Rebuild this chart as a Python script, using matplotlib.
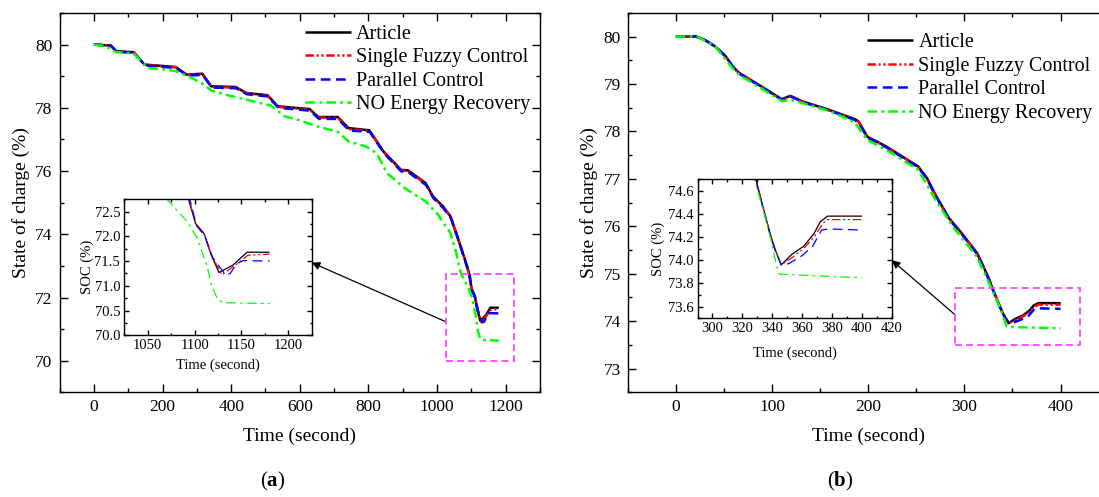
import matplotlib
matplotlib.use("Agg")
import matplotlib.pyplot as plt
from matplotlib.ticker import MultipleLocator, FormatStrFormatter
from matplotlib.patches import Rectangle

plt.rcParams['font.family'] = ['Liberation Serif', 'DejaVu Serif']
plt.rcParams['mathtext.fontset'] = 'custom'
plt.rcParams['mathtext.rm'] = 'Liberation Serif'
plt.rcParams['mathtext.bf'] = 'Liberation Serif:bold'
plt.rcParams['lines.scale_dashes'] = False

# ==========================================
# DATA - panel (a)
# ==========================================
a_article_t = [0, 49, 65, 116, 147, 239, 270, 316, 342, 413, 444, 506, 536, 629, 654, 711, 742, 803,
               844, 895, 916, 967, 988, 1018, 1039, 1059, 1080, 1093, 1101, 1110, 1117, 1126, 1141, 1156, 1180]
a_article_soc = [80.0, 79.97, 79.79, 79.76, 79.37, 79.29, 79.05, 79.08, 78.68, 78.66, 78.47, 78.40, 78.05, 77.96,
                 77.71, 77.71, 77.36, 77.29, 76.62, 76.04, 76.02, 75.62, 75.20, 74.88, 74.57, 73.93, 73.25,
                 72.78, 72.26, 72.06, 71.66, 71.27, 71.42, 71.68, 71.68]

a_fuzzy_t = [0, 49, 66, 116, 148, 239, 271, 316, 343, 413, 445, 506, 537, 629, 655, 711, 743, 803,
             845, 895, 916, 967, 989, 1018, 1040, 1060, 1080, 1094, 1101, 1110, 1118, 1129, 1145, 1157, 1180]
a_fuzzy_soc = [80.0, 79.97, 79.78, 79.75, 79.36, 79.28, 79.04, 79.06, 78.66, 78.64, 78.46, 78.38, 78.03, 77.94,
               77.69, 77.69, 77.33, 77.27, 76.60, 76.02, 76.00, 75.60, 75.18, 74.86, 74.56, 73.92, 73.25,
               72.76, 72.26, 72.05, 71.63, 71.22, 71.44, 71.62, 71.64]

a_parallel_t = [0, 50, 67, 117, 149, 240, 272, 317, 344, 414, 446, 507, 538, 630, 656, 712, 744, 804,
                846, 896, 917, 968, 990, 1019, 1041, 1061, 1081, 1095, 1102, 1111, 1119, 1133, 1138, 1145, 1152, 1180]
a_parallel_soc = [80.0, 79.96, 79.77, 79.74, 79.34, 79.26, 79.02, 79.04, 78.64, 78.62, 78.43, 78.36, 78.00, 77.91,
                  77.65, 77.65, 77.28, 77.24, 76.56, 75.99, 75.96, 75.56, 75.14, 74.82, 74.50, 73.88, 73.20,
                  72.74, 72.22, 72.00, 71.58, 71.22, 71.25, 71.45, 71.51, 71.50]

a_norecov_t = [0, 34, 65, 116, 157, 208, 239, 285, 321, 342, 382, 444, 516, 557, 598, 649, 711, 742, 793,
               824, 854, 906, 967, 1003, 1039, 1055, 1070, 1092, 1102, 1113, 1118, 1125, 1131, 1180]
a_norecov_soc = [80.0, 79.95, 79.76, 79.72, 79.26, 79.21, 79.16, 78.95, 78.73, 78.55, 78.42, 78.26, 78.07,
                 77.73, 77.61, 77.42, 77.24, 76.94, 76.78, 76.57, 75.94, 75.46, 75.04, 74.62, 74.04, 73.45,
                 72.76, 72.30, 71.99, 71.42, 71.01, 70.71, 70.66, 70.64]

# ==========================================
# DATA - panel (b)
# ==========================================
b_article_t = [0, 21, 30, 41, 52, 59, 66, 88, 110, 119, 132, 157, 186, 190, 199, 219, 252, 261, 270, 284,
               297, 313, 319, 326, 329, 335, 339, 342, 346, 353, 361, 368, 372, 377, 400]
b_article_soc = [80.0, 80.0, 79.93, 79.79, 79.58, 79.37, 79.23, 78.96, 78.68, 78.75, 78.63, 78.47, 78.26, 78.21,
                 77.89, 77.68, 77.26, 77.02, 76.66, 76.17, 75.86, 75.44, 75.19, 74.87, 74.70, 74.40, 74.21,
                 74.09, 73.96, 74.05, 74.12, 74.23, 74.33, 74.38, 74.38]

b_fuzzy_t = [0, 21, 30, 41, 52, 59, 66, 88, 110, 119, 132, 157, 186, 190, 199, 219, 252, 261, 270, 284,
             297, 313, 319, 326, 329, 335, 339, 342, 346, 353, 361, 368, 374, 377, 400]
b_fuzzy_soc = [80.0, 80.0, 79.93, 79.78, 79.57, 79.36, 79.22, 78.95, 78.67, 78.74, 78.62, 78.46, 78.25, 78.20,
               77.88, 77.67, 77.25, 77.01, 76.65, 76.16, 75.85, 75.43, 75.18, 74.86, 74.70, 74.40, 74.21,
               74.09, 73.96, 74.02, 74.10, 74.20, 74.32, 74.35, 74.35]

b_parallel_t = [0, 21, 30, 41, 52, 59, 66, 88, 110, 119, 132, 157, 186, 190, 199, 219, 252, 261, 270, 284,
                297, 313, 319, 326, 329, 335, 339, 342, 346, 351, 360, 367, 373, 378, 400]
b_parallel_soc = [80.0, 80.0, 79.93, 79.79, 79.58, 79.37, 79.22, 78.95, 78.67, 78.74, 78.62, 78.46, 78.24, 78.19,
                  77.87, 77.66, 77.24, 77.00, 76.64, 76.15, 75.84, 75.42, 75.17, 74.85, 74.69, 74.39, 74.20,
                  74.08, 73.96, 73.97, 74.04, 74.12, 74.26, 74.27, 74.26]

b_norecov_t = [0, 22, 41, 59, 66, 110, 121, 161, 186, 199, 219, 252, 270, 288, 313, 328, 335, 339, 344,
               345, 362, 380, 400]
b_norecov_soc = [80.0, 80.0, 79.79, 79.33, 79.19, 78.64, 78.66, 78.42, 78.19, 77.82, 77.61, 77.19, 76.56,
                 75.99, 75.36, 74.70, 74.38, 74.18, 73.89, 73.88, 73.87, 73.86, 73.85]

LABELS = ["Article", "Single Fuzzy Control", "Parallel Control", "NO Energy Recovery"]
COLORS = ["black", "#ff0000", "#0000ff", "#00ff00"]
DASHES = [(0, ()), (0, (6, 2, 1.5, 2, 1.5, 2)), (0, (7, 4)), (0, (7, 3, 2, 3))]

series_a = [(a_article_t, a_article_soc), (a_fuzzy_t, a_fuzzy_soc),
            (a_parallel_t, a_parallel_soc), (a_norecov_t, a_norecov_soc)]
series_b = [(b_article_t, b_article_soc), (b_fuzzy_t, b_fuzzy_soc),
            (b_parallel_t, b_parallel_soc), (b_norecov_t, b_norecov_soc)]


def style_axes(ax, xmaj, xmin, ymaj, ymin, major_len, minor_len, size, pad):
    ax.xaxis.set_major_locator(MultipleLocator(xmaj))
    ax.xaxis.set_minor_locator(MultipleLocator(xmin))
    ax.yaxis.set_major_locator(MultipleLocator(ymaj))
    ax.yaxis.set_minor_locator(MultipleLocator(ymin))
    ax.tick_params(which='both', direction='in', top=True, right=True, width=1.0)
    ax.tick_params(which='major', length=major_len, labelsize=size, pad=pad)
    ax.tick_params(which='minor', length=minor_len)
    for sp in ax.spines.values():
        sp.set_linewidth(1.0)


def draw_lines(ax, series, lw):
    for (t, soc), lab, col, ls in zip(series, LABELS, COLORS, DASHES):
        ax.plot(t, soc, color=col, linestyle=ls, linewidth=lw, label=lab)


fig = plt.figure(figsize=(10.99, 4.97), dpi=100)

ax_a = fig.add_axes([0.0542, 0.2103, 0.4371, 0.7636])
ax_b = fig.add_axes([0.5712, 0.2106, 0.4376, 0.7636])
in_a = fig.add_axes([0.1132, 0.3254, 0.1704, 0.2736])
in_b = fig.add_axes([0.6347, 0.3596, 0.1768, 0.2803])

# main panels
for ax, series, xlim, ylim, ticks, anchor in [
        (ax_a, series_a, (-100, 1300), (69, 81), (200, 100, 2, 1), (0.5108, 0.969)),
        (ax_b, series_b, (-50, 450), (72.5, 80.5), (100, 50, 1, 0.5), (0.4976, 0.947))]:
    draw_lines(ax, series, 1.8)
    ax.set_xlim(*xlim)
    ax.set_ylim(*ylim)
    style_axes(ax, *ticks, major_len=5.8, minor_len=3, size=12.5, pad=5)
    ax.set_xlabel("Time (second)", fontsize=14)
    ax.set_ylabel("State of charge (%)", fontsize=14)
    ax.xaxis.set_label_coords(0.5, -0.093)
    ax.yaxis.set_label_coords(-0.062, 0.5)
    ax.legend(loc='upper left', bbox_to_anchor=anchor, frameon=False, fontsize=14.5,
              handlelength=2.3, handletextpad=0.25, labelspacing=0.22, borderpad=0, borderaxespad=0)

# insets
for ax, series, xlim, ylim, ticks, lab_x, lab_y in [
        (in_a, series_a, (1025, 1225), (70.0, 72.75), (50, 25, 0.5, 0.25), -0.174, -0.162),
        (in_b, series_b, (290, 420), (73.5, 74.7), (20, 10, 0.2, 0.1), -0.206, -0.169)]:
    draw_lines(ax, series, 0.9)
    ax.set_xlim(*xlim)
    ax.set_ylim(*ylim)
    style_axes(ax, *ticks, major_len=3.5, minor_len=1.8, size=10.5, pad=3)
    ax.yaxis.set_major_formatter(FormatStrFormatter('%.1f'))
    ax.set_xlabel("Time (second)", fontsize=10.5)
    ax.set_ylabel("SOC (%)", fontsize=10.5)
    ax.xaxis.set_label_coords(0.5, lab_x)
    ax.yaxis.set_label_coords(lab_y, 0.5)

# zoom boxes and arrows
ax_a.add_patch(Rectangle((1025, 70.0), 200, 2.75, fill=False, edgecolor='#ff44ff',
                         linestyle=(0, (5, 3)), linewidth=1.3, zorder=5))
ax_b.add_patch(Rectangle((290, 73.5), 130, 1.2, fill=False, edgecolor='#ff44ff',
                         linestyle=(0, (5, 3)), linewidth=1.3, zorder=5))
arrow = dict(arrowstyle='-|>', color='black', lw=0.9, mutation_scale=12, shrinkA=0, shrinkB=0)
ax_a.annotate('', xy=(1225, 71.47), xycoords=in_a.transData, xytext=(1025, 71.24),
              textcoords='data', arrowprops=arrow)
ax_b.annotate('', xy=(420, 74.0), xycoords=in_b.transData, xytext=(290, 74.14),
              textcoords='data', arrowprops=arrow)

fig.text(273 / 1099, 1 - 481 / 497, r'$(\mathbf{a})$', ha='center', va='center', fontsize=15)
fig.text(840 / 1099, 1 - 481 / 497, r'$(\mathbf{b})$', ha='center', va='center', fontsize=15)

fig.savefig("out.png", dpi=100)
plt.close(fig)
